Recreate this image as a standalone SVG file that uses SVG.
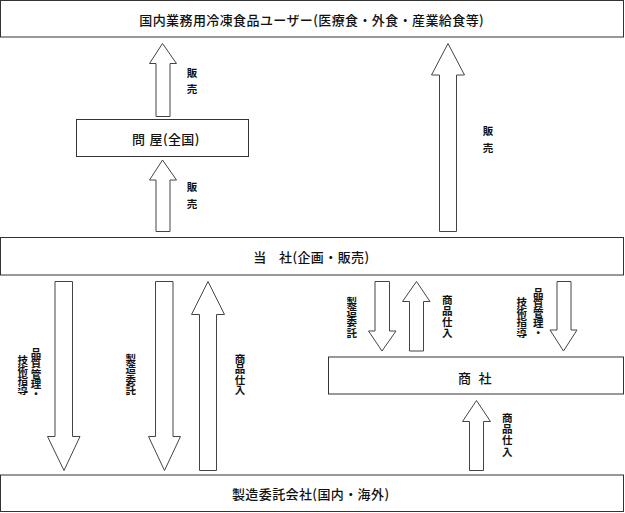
<svg xmlns="http://www.w3.org/2000/svg" width="625" height="513" viewBox="0 0 625 513">
<style>
.box{fill:#fff;stroke:#333;stroke-width:1}
.arr{fill:#fff;stroke:#444;stroke-width:1}
text{font-family:"Noto Sans CJK JP","Noto Sans CJK SC",sans-serif;fill:#111;dominant-baseline:central}
.lb{font-size:13px;letter-spacing:0.4px;font-weight:500}
.s{font-size:10.5px;text-anchor:middle;font-weight:600}
.v{font-size:10.5px;text-anchor:start;writing-mode:vertical-rl;font-weight:600}
</style>
<rect width="625" height="513" fill="#fff"/>
<g id="users">
<rect class="box" x="0.5" y="0.5" width="623" height="36.5"/>
<text class="lb" x="311.7" y="19" text-anchor="middle">国内業務用冷凍食品ユーザー(医療食・外食・産業給食等)</text>
</g>
<g id="tonya">
<rect class="box" x="76.5" y="119.5" width="172" height="37"/>
<text class="lb" y="138"><tspan x="132">問</tspan><tspan x="149.5">屋(全国)</tspan></text>
</g>
<g id="tosha">
<rect class="box" x="0.5" y="237.5" width="623" height="37.5"/>
<text class="lb" y="256"><tspan x="253.3">当</tspan><tspan x="279">社(企画・販売)</tspan></text>
</g>
<g id="shosha">
<rect class="box" x="328.5" y="357" width="295" height="37"/>
<text class="lb" y="376.5"><tspan x="458">商</tspan><tspan x="478.5">社</tspan></text>
</g>
<g id="maker">
<rect class="box" x="0.5" y="475" width="623" height="36.5"/>
<text class="lb" x="310.7" y="493.5" text-anchor="middle">製造委託会社(国内・海外)</text>
</g>
<g id="connectors">
<polygon class="arr" points="162.5,43.5 176.5,63.5 170,63.5 170,116.5 156,116.5 156,63.5 149.5,63.5"/>
<polygon class="arr" points="162.5,160 176.5,180 170,180 170,231.5 156,231.5 156,180 149.5,180"/>
<polygon class="arr" points="448,43.5 464.5,75 456.5,75 456.5,231.5 439.5,231.5 439.5,75 431.5,75"/>
<polygon class="arr" points="55,281.5 72.5,281.5 72.5,436.5 80,436.5 64,470.5 47.5,436.5 55,436.5"/>
<polygon class="arr" points="155.5,281.5 173,281.5 173,436.5 180.5,436.5 164.5,470.5 148.5,436.5 155.5,436.5"/>
<polygon class="arr" points="208,281.5 224.5,314.5 216.5,314.5 216.5,470.5 199.5,470.5 199.5,314.5 191.5,314.5"/>
<polygon class="arr" points="375,281.5 389.5,281.5 389.5,331 396,331 382,351 368.5,331 375,331"/>
<polygon class="arr" points="416.5,281.5 430,301.5 423.5,301.5 423.5,351 409.5,351 409.5,301.5 402.5,301.5"/>
<polygon class="arr" points="557,281.5 571,281.5 571,330 577,330 563.5,351 550,330 557,330"/>
<polygon class="arr" points="476.5,400.5 490.5,421.5 483.5,421.5 483.5,470.5 469.5,470.5 469.5,421.5 462.5,421.5"/>
<g class="labels">
<text class="s" x="192" y="72">販</text><text class="s" x="192" y="88">売</text>
<text class="s" x="192" y="186">販</text><text class="s" x="192" y="203">売</text>
<text class="s" x="488" y="130">販</text><text class="s" x="488" y="147">売</text>
<text class="v" x="36" y="348" letter-spacing="-0.3">品質管理・</text>
<text class="v" x="22.7" y="354.7" letter-spacing="-0.5">技術指導</text>
<text class="v" x="130.7" y="353.5" letter-spacing="-0.1">製造委託</text>
<text class="v" x="240" y="354" letter-spacing="-0.3">商品仕入</text>
<text class="v" x="351.7" y="296.4" letter-spacing="-0.2">製造委託</text>
<text class="v" x="447.3" y="295.2" letter-spacing="0.2">商品仕入</text>
<text class="v" x="538.3" y="288" letter-spacing="-0.5">品質管理・</text>
<text class="v" x="521.7" y="296.4" letter-spacing="-0.2">技術指導</text>
<text class="v" x="507.3" y="413" letter-spacing="0.6">商品仕入</text>
</g>
</g>
</svg>
